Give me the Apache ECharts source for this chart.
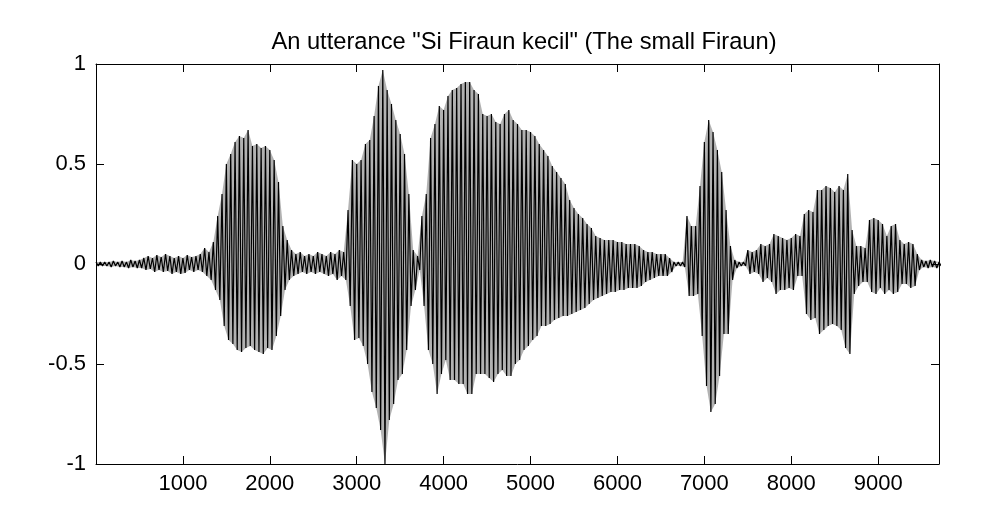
<!DOCTYPE html>
<html>
<head>
<meta charset="utf-8">
<title>utterance</title>
<script src="https://cdn.jsdelivr.net/npm/echarts@6/dist/echarts.min.js"></script>
<style>
  html, body { margin: 0; padding: 0; background: #fff; }
  #main { width: 988px; height: 524px; }
</style>
</head>
<body>
<div id="main"></div>
<script>
var titleText = 'An utterance "Si Firaun kecil" (The small Firaun)';
var xTicks = [1000, 2000, 3000, 4000, 5000, 6000, 7000, 8000, 9000];
var yTicks = [-1, -0.5, 0, 0.5, 1];
var sampleCount = 9700;
var STEP = 50; // one envelope reading every 50 samples

// positive peaks of the waveform (0, 50, 100 ... 9700)
var upper = [
  0.01, 0.01, 0.01, 0.01, 0.015, 0.01, 0.015, 0.01, 0.02, 0.015,
  0.02, 0.03, 0.04, 0.03, 0.045, 0.035, 0.05, 0.04, 0.03, 0.04,
  0.03, 0.045, 0.035, 0.04, 0.05, 0.08, 0.06, 0.11, 0.24, 0.35,
  0.5, 0.55, 0.61, 0.64, 0.63, 0.67, 0.59, 0.6, 0.58, 0.59,
  0.57, 0.52, 0.41, 0.19, 0.12, 0.07, 0.05, 0.06, 0.04, 0.05,
  0.04, 0.06, 0.05, 0.04, 0.06, 0.05, 0.07, 0.06, 0.27, 0.52,
  0.5, 0.52, 0.6, 0.62, 0.74, 0.89, 0.97, 0.87, 0.8, 0.72,
  0.65, 0.55, 0.35, 0.07, 0.04, 0.24, 0.35, 0.63, 0.7, 0.79,
  0.77, 0.84, 0.87, 0.88, 0.9, 0.91, 0.91, 0.87, 0.85, 0.75,
  0.74, 0.75, 0.71, 0.7, 0.75, 0.77, 0.72, 0.7, 0.67, 0.67,
  0.66, 0.64, 0.6, 0.57, 0.54, 0.49, 0.46, 0.43, 0.4, 0.32,
  0.28, 0.25, 0.23, 0.2, 0.18, 0.14, 0.13, 0.12, 0.12, 0.12,
  0.11, 0.11, 0.1, 0.1, 0.1, 0.09, 0.07, 0.06, 0.06, 0.05,
  0.05, 0.05, 0.03, 0.01, 0.01, 0.01, 0.24, 0.19, 0.19, 0.39,
  0.61, 0.72, 0.66, 0.57, 0.46, 0.27, 0.09, 0.02, 0.01, 0.01,
  0.07, 0.06, 0.07, 0.1, 0.09, 0.1, 0.15, 0.14, 0.13, 0.12,
  0.13, 0.15, 0.14, 0.25, 0.27, 0.26, 0.37, 0.37, 0.39, 0.38,
  0.36, 0.39, 0.37, 0.45, 0.17, 0.09, 0.09, 0.08, 0.22, 0.23,
  0.22, 0.2, 0.14, 0.19, 0.2, 0.12, 0.1, 0.11, 0.1, 0.05,
  0.02, 0.015, 0.02, 0.015, 0.01
];
// negative peaks, same positions shifted half a step
var lower = [
  -0.01, -0.01, -0.01, -0.015, -0.01, -0.015, -0.015, -0.02, -0.015, -0.02,
  -0.02, -0.03, -0.025, -0.04, -0.03, -0.04, -0.035, -0.05, -0.04, -0.05,
  -0.045, -0.03, -0.04, -0.03, -0.04, -0.06, -0.08, -0.13, -0.18, -0.31,
  -0.38, -0.4, -0.43, -0.44, -0.42, -0.41, -0.43, -0.44, -0.45, -0.42,
  -0.43, -0.36, -0.26, -0.13, -0.08, -0.06, -0.05, -0.04, -0.05, -0.04,
  -0.05, -0.04, -0.05, -0.06, -0.05, -0.08, -0.06, -0.08, -0.21, -0.38,
  -0.37, -0.41, -0.5, -0.64, -0.72, -0.83, -1.0, -0.78, -0.7, -0.58,
  -0.55, -0.43, -0.21, -0.13, -0.03, -0.21, -0.43, -0.5, -0.65, -0.55,
  -0.48, -0.58, -0.58, -0.6, -0.6, -0.65, -0.65, -0.55, -0.55, -0.55,
  -0.57, -0.59, -0.55, -0.53, -0.56, -0.56, -0.5, -0.48, -0.43, -0.41,
  -0.38, -0.36, -0.31, -0.31, -0.3, -0.28, -0.27, -0.26, -0.26, -0.25,
  -0.24, -0.23, -0.22, -0.2, -0.18, -0.17, -0.16, -0.15, -0.14, -0.14,
  -0.13, -0.13, -0.12, -0.12, -0.12, -0.11, -0.09, -0.08, -0.07, -0.06,
  -0.06, -0.06, -0.04, -0.01, -0.01, -0.015, -0.16, -0.16, -0.15, -0.36,
  -0.61, -0.74, -0.7, -0.56, -0.35, -0.35, -0.08, -0.02, -0.01, -0.01,
  -0.05, -0.04, -0.05, -0.09, -0.07, -0.09, -0.15, -0.13, -0.13, -0.12,
  -0.13, -0.06, -0.06, -0.25, -0.28, -0.27, -0.35, -0.33, -0.31, -0.3,
  -0.31, -0.33, -0.42, -0.45, -0.15, -0.11, -0.09, -0.09, -0.14, -0.15,
  -0.12, -0.15, -0.13, -0.15, -0.14, -0.1, -0.1, -0.12, -0.11, -0.03,
  -0.015, -0.02, -0.015, -0.02, -0.01
];

var wave = [], upperPts = [], lowerPts = [];
for (var i = 0; i < upper.length; i++) {
  wave.push([i * STEP, upper[i]]);
  wave.push([i * STEP + STEP / 2, lower[i]]);
  upperPts.push([i * STEP, upper[i]]);
  lowerPts.push([i * STEP + STEP / 2, lower[i]]);
}

var font = '"Liberation Sans", Arial, sans-serif';
var tickStyle = { show: true, inside: true, length: 8, lineStyle: { color: '#000', width: 1 } };
var lineStyle = { show: true, onZero: false, lineStyle: { color: '#000', width: 1 } };

// grey wash under the strokes (the trace is so dense it reads as a filled band)
function band(pts) {
  return {
    type: 'line', data: pts, showSymbol: false, symbol: 'none', silent: true,
    clip: true, sampling: null, z: 1,
    lineStyle: { width: 0, opacity: 0 },
    areaStyle: { color: '#000', opacity: 0.3, origin: 0 }
  };
}

var myChart = echarts.init(document.getElementById('main'), null, { renderer: 'canvas' });
var option = {
  animation: false,
  backgroundColor: '#fff',
  title: {
    text: titleText,
    left: 519,
    textAlign: 'center',
    top: 25,
    textStyle: { fontFamily: font, fontSize: 23.7, fontWeight: 'normal', color: '#000' }
  },
  grid: { left: 96, right: 49, top: 64, bottom: 60 },
  xAxis: [{
    type: 'value', position: 'bottom', min: 0, max: sampleCount, interval: 1000,
    axisLine: lineStyle, axisTick: tickStyle, splitLine: { show: false },
    axisLabel: {
      color: '#000', fontFamily: font, fontSize: 22, margin: 9,
      showMinLabel: false, showMaxLabel: false,
      formatter: function (v) { return xTicks.indexOf(v) >= 0 ? String(v) : ''; }
    }
  }, {
    type: 'value', position: 'top', min: 0, max: sampleCount, interval: 1000,
    axisLine: lineStyle, axisTick: tickStyle, splitLine: { show: false },
    axisLabel: { show: false }
  }],
  yAxis: [{
    type: 'value', position: 'left', min: yTicks[0], max: yTicks[yTicks.length - 1], interval: 0.5,
    axisLine: lineStyle, axisTick: tickStyle, splitLine: { show: false },
    axisLabel: { color: '#000', fontFamily: font, fontSize: 22, margin: 10 }
  }, {
    type: 'value', position: 'right', min: yTicks[0], max: yTicks[yTicks.length - 1], interval: 0.5,
    axisLine: lineStyle, axisTick: tickStyle, splitLine: { show: false },
    axisLabel: { show: false }
  }],
  series: [
    band(upperPts),
    band(lowerPts),
    {
      type: 'line',
      data: wave,
      showSymbol: false,
      symbol: 'none',
      clip: true,
      sampling: null,
      z: 2,
      lineStyle: { color: '#000', width: 1.2 }
    }
  ]
};
myChart.setOption(option);
</script>
</body>
</html>
